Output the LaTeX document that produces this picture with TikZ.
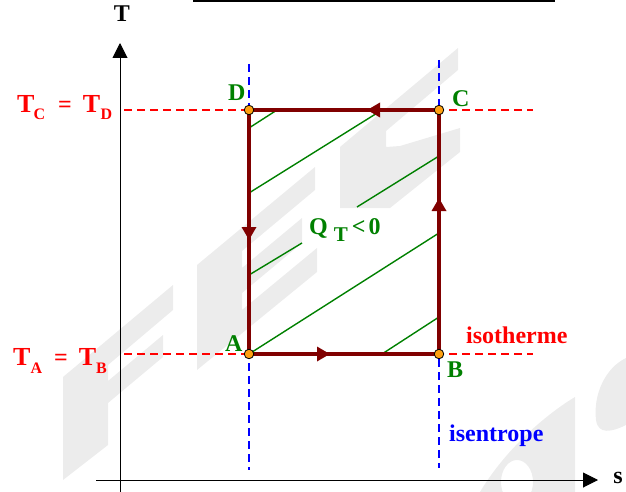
\documentclass[tikz,border=0pt]{standalone}
\usepackage{fontspec}
\setmainfont{Liberation Serif}
\usetikzlibrary{arrows.meta,decorations.markings}
\definecolor{dred}{RGB}{128,0,0}
\definecolor{dgreen}{RGB}{0,128,0}
\definecolor{isored}{RGB}{255,0,0}
\definecolor{isoblue}{RGB}{0,0,255}
\definecolor{dotorange}{RGB}{255,160,16}
\definecolor{wm}{RGB}{236,236,236}
\begin{document}
\begin{tikzpicture}[x=1pt,y=-1pt,
  wmark/.style={fill=wm, draw=none},
  isoT/.style={draw=isored, dash pattern=on 8pt off 5pt, line width=1.1pt},
  isoS/.style={draw=isoblue, dash pattern=on 8pt off 5pt, line width=1.1pt},
  axis/.style={line width=1pt, -{Triangle[length=15pt,width=15pt]}},
  hatch/.style={dgreen, line width=1.4pt},
  cycleline/.style={dred, line width=3.3pt},
  midarrow/.style={decoration={markings,
      mark=at position 81pt with {\arrow{Triangle[length=13pt,width=14pt]}},
      mark=at position 346pt with {\arrow{Triangle[length=13pt,width=14pt]}},
      mark=at position 506pt with {\arrow{Triangle[length=13pt,width=14pt]}},
      mark=at position 754pt with {\arrow{Triangle[length=13pt,width=14pt]}}},
      postaction={decorate}},
  ptdot/.style={circle, fill=dotorange, draw=black, line width=0.8pt, inner sep=0pt, minimum size=9.5pt},
  lbl/.style={font=\fontsize{24}{28}\selectfont\bfseries, inner sep=0pt, anchor=base west},
]
\useasboundingbox (0,0) rectangle (626,492);

% watermark
\fill[wmark] (63,377) -- (173,285) -- (173,310) -- (108,365) -- (108,381) -- (163,335) -- (163,357) -- (108,403) -- (108,445) -- (63,480) -- cycle;
\fill[wmark] (197,265) -- (315,167) -- (315,190) -- (242,251) -- (242,268) -- (302,218) -- (302,243) -- (242,293) -- (242,310) -- (317,248) -- (317,272) -- (197,370) -- cycle;
\fill[wmark] (340,147) -- (458,48) -- (458,70) -- (386,131) -- (386,147) -- (400,146) -- (460,128) -- (460,152) -- (390,208) -- (340,208) -- cycle;
\fill[wmark, even odd rule] (480,492) .. controls (505,450) and (545,415) .. (575,397) -- (575,492) -- cycle (517,482) ellipse [x radius=16pt, y radius=22pt];
\fill[wmark] (626,358) .. controls (605,368) and (593,395) .. (596,420) .. controls (598,435) and (612,432) .. (626,425) -- cycle;

% top rule
\coordinate (ruleL) at (193,0.9);
\coordinate (ruleR) at (555,0.9);
\draw[line width=1.8pt] (ruleL) -- (ruleR);

% axes
\coordinate (Tbot) at (120,492); \coordinate (Ttop) at (120,43);
\coordinate (sL) at (96,480);    \coordinate (sR) at (598,480);
\draw[axis] (Tbot) -- (Ttop);
\draw[axis] (sL) -- (sR);
\node[lbl, anchor=base] (Tlab) at (122,22) {T};
\node[lbl, anchor=base] (slab) at (618,483) {s};

% dashed guide lines
\coordinate (tcdL) at (124,110); \coordinate (tcdR) at (533,110);
\coordinate (tabL) at (124,354); \coordinate (tabR) at (533,354);
\coordinate (sadT) at (249,64);  \coordinate (sadB) at (249,470);
\coordinate (sbcT) at (439,60);  \coordinate (sbcB) at (439,468);
\draw[isoT] (tcdL) -- (tcdR);
\draw[isoT] (tabL) -- (tabR);
\draw[isoS] (sadT) -- (sadB);
\draw[isoS] (sbcT) -- (sbcB);

% hatching
\draw[hatch] (249,128) -- (277,110);
\draw[hatch] (249,193) -- (382,110);
\draw[hatch] (249,275) -- (302,243);
\draw[hatch] (357,207) -- (439,156);
\draw[hatch] (249,354) -- (439,233);
\draw[hatch] (382,354) -- (439,317);

% cycle
\coordinate (A) at (249,354);
\coordinate (B) at (439,354);
\coordinate (C) at (439,110);
\coordinate (D) at (249,110);
\draw[cycleline, midarrow] (A) -- (B) -- (C) -- (D) -- cycle;
\node[ptdot] (Adot) at (A) {};
\node[ptdot] (Bdot) at (B) {};
\node[ptdot] (Cdot) at (C) {};
\node[ptdot] (Ddot) at (D) {};

% labels
\node[lbl, dgreen] (Alab) at (225,351) {A};
\node[lbl, dgreen] (Blab) at (447,377) {B};
\node[lbl, dgreen] (Clab) at (452,107) {C};
\node[lbl, dgreen] (Dlab) at (228,101) {D};
\node[lbl, isored] (isoTlab) at (466,343) {isotherme};
\node[lbl, isoblue] (isoSlab) at (449,441) {isentrope};
\node[lbl, dgreen] (Qlab) at (309,234) {Q\hspace{6pt}\raisebox{-7pt}{\fontsize{21}{21}\selectfont T}\hspace{4pt}<\hspace{3pt}0};
\node[lbl, isored] (TCD) at (17,113) {\fontsize{26}{28}\selectfont T\kern-1pt\raisebox{-7pt}{\fontsize{16}{16}\selectfont C}\hspace{13pt}\fontsize{24}{28}\selectfont =\hspace{11pt}\fontsize{26}{28}\selectfont T\kern0.5pt\raisebox{-7pt}{\fontsize{16}{16}\selectfont D}};
\node[lbl, isored] (TAB) at (13,365) {\fontsize{26}{28}\selectfont T\raisebox{-8pt}{\fontsize{16}{16}\selectfont A}\hspace{12pt}\fontsize{24}{28}\selectfont =\hspace{11pt}\fontsize{26}{28}\selectfont T\raisebox{-8pt}{\fontsize{16}{16}\selectfont B}};
\end{tikzpicture}
\end{document}
